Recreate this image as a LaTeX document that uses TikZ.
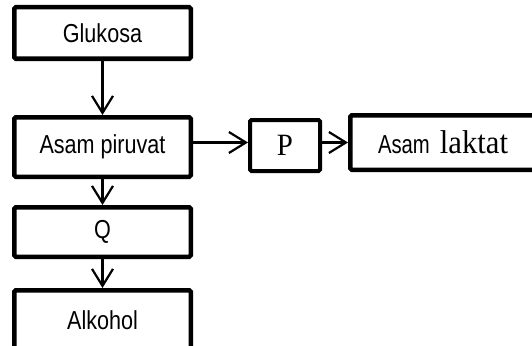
\documentclass[tikz,border=0pt]{standalone}
\usepackage{fontspec}
\usetikzlibrary{arrows.meta}
\newfontfamily\arialsf[FakeStretch=0.83]{Liberation Sans}
\newfontfamily\arialnarrow[FakeStretch=0.78]{Liberation Sans}
\newfontfamily\timesrm[FakeStretch=0.93]{Liberation Serif}
\tikzset{
  box/.style={draw, line width=4.5pt, rounded corners=1.5pt, inner sep=0pt, fill=white},
  flow/.style={line width=2.2pt, -{Straight Barb[length=17pt,width=21pt,line width=2.2pt]}},
  lbl/.style={font=\arialsf\fontsize{26}{30}\selectfont}
}
\begin{document}
\begin{tikzpicture}[x=1pt,y=-1pt]
\useasboundingbox (0,0) rectangle (532,345);
\clip (0,0) rectangle (532,345);
\node[box, lbl, minimum width=176.5pt, minimum height=51.5pt] (glu) at (102.5,33) {Glukosa};
\node[box, lbl, minimum width=176.5pt, minimum height=59.5pt] (pir) at (102.5,147) {Asam piruvat};
\node[box, lbl, minimum width=176.5pt, minimum height=49.5pt] (q) at (102.5,232) {\raisebox{-2pt}{Q}};
\node[box, lbl, minimum width=176.5pt, minimum height=59.5pt] (alk) at (102.5,320) {Alkohol};
\node[box, line width=4pt, minimum width=70pt, minimum height=51pt, font=\timesrm\fontsize{31}{34}\selectfont] (p) at (285,145.5) {\raisebox{-3pt}{P}};
\node[box, minimum width=185.5pt, minimum height=54.5pt] (lak) at (443,142.5) {\raisebox{-3pt}{{\arialnarrow\fontsize{26}{30}\selectfont Asam}\hspace{10pt}{\timesrm\fontsize{33}{36}\selectfont laktat}}};
\draw[flow] (glu.south) -- (pir.north);
\draw[flow] (pir.south) -- (q.north);
\draw[flow] (q.south) -- (alk.north);
\draw[flow] (pir.east |- lak.west) -- (p.west |- lak.west);
\draw[flow] (p.east |- lak.west) -- (lak.west);
\end{tikzpicture}
\end{document}
